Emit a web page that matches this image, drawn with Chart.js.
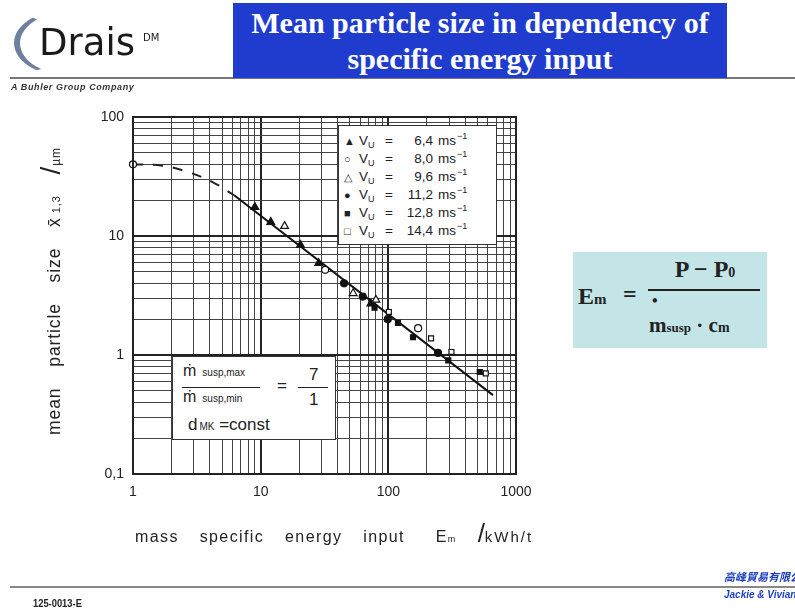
<!DOCTYPE html>
<html>
<head>
<meta charset="utf-8">
<script src="https://cdn.jsdelivr.net/npm/chart.js@4.4.1/dist/chart.umd.min.js"></script>
<style>
  html, body { margin:0; padding:0; background:#fff; }
  body { width:795px; height:614px; position:relative; overflow:hidden; font-family:"Liberation Sans", Arial, sans-serif; }
  #c { position:absolute; left:0; top:0; }
  .abs { position:absolute; }
  #titlebox { left:233px; top:3px; width:494px; height:75px; background:#1f3ccf; color:#fff;
    font-family:"Liberation Serif", "Times New Roman", serif; font-weight:bold; font-size:30px; line-height:36px;
    text-align:center; padding-top:2px; box-sizing:border-box; z-index:2; white-space:nowrap; }
  #hline { left:10px; top:77px; width:785px; height:2px; background:#777; z-index:1; }
  #arc { left:14px; top:8px; width:120px; height:70px; border-radius:50%; border-left:6px solid #6f7f9f; border-top:3px solid transparent; border-bottom:2px solid transparent; border-right:0; box-sizing:border-box; z-index:2; }
  #drais { left:39px; top:21px; font-family:"DejaVu Sans", sans-serif; font-size:37px; color:#1a1a1a; z-index:3; }
  #dm { left:143px; top:32px; font-family:"DejaVu Sans", sans-serif; font-size:10px; color:#1a1a1a; z-index:3; }
  #buhler { left:11px; top:82px; font-size:9px; font-style:italic; font-weight:bold; color:#333; letter-spacing:0.6px; z-index:3; }
  #legend { left:338px; top:125px; width:159px; height:120px; background:#fff; border:1px solid #333; box-sizing:border-box; z-index:3; font-size:13.5px; color:#222; }
  .lrow { position:absolute; left:0; height:18px; width:159px; line-height:18px; }
  .lrow span { position:absolute; top:0; }
  .lrow .mk { left:5px; font-size:11px; }
  .lrow .vu { left:20px; }
  .lrow .vu i { font-style:normal; font-size:9px; position:relative; top:3px; }
  .lrow .eq { left:46px; }
  .lrow .num { left:56px; width:38px; text-align:right; }
  .lrow .unit { left:99px; }
  .lrow .unit i { font-style:normal; font-size:9px; position:relative; top:-6px; margin-left:1px; }
  #annot { left:172px; top:356px; width:164px; height:84px; background:#fff; border:1px solid #333; box-sizing:border-box; z-index:3; color:#222; font-size:14px; }
  #formula { left:573px; top:252px; width:194px; height:96px; background:#c4e5e8; z-index:3; color:#222;
    font-family:"Liberation Serif", "Times New Roman", serif; font-weight:bold; font-size:24px; }
  #ytitle { left:-120px; top:276px; width:340px; height:30px; transform:rotate(-90deg); text-align:center; font-size:17.5px; color:#222; letter-spacing:0.9px; word-spacing:15px; z-index:3; white-space:nowrap; }
  #xtitle { left:135px; top:518px; width:460px; font-size:16px; color:#222; word-spacing:15px; letter-spacing:1.4px; z-index:3; white-space:nowrap; }
  #fline { left:10px; top:586px; width:785px; height:2px; background:#888; }
  #code { left:33px; top:597px; font-size:11px; font-weight:bold; color:#222; transform:scaleX(0.85); transform-origin:left; }
  #cn { left:724px; top:568px; font-family:"Noto Sans CJK TC", sans-serif; font-size:11px; font-weight:bold; font-style:italic; color:#1f3fbf; white-space:nowrap; }
  #jv { left:724px; top:589px; font-size:10px; font-weight:bold; font-style:italic; color:#1f3fbf; white-space:nowrap; }
</style>
</head>
<body>
<canvas id="c" width="795" height="614"></canvas>

<div id="arc" class="abs"></div>
<div id="drais" class="abs">Drais</div>
<div id="dm" class="abs">DM</div>
<div id="hline" class="abs"></div>
<div id="buhler" class="abs">A Buhler Group Company</div>
<div id="titlebox" class="abs">Mean particle size in dependency of<br>specific energy input</div>

<div id="legend" class="abs"></div>

<div id="annot" class="abs">
  <div class="abs" style="left:10px;top:5px;font-size:16px;">m&#775;<span style="font-size:10px;margin-left:6px;">susp,max</span></div>
  <div class="abs" style="left:9px;top:30px;width:78px;height:1px;background:#222;"></div>
  <div class="abs" style="left:10px;top:31px;font-size:16px;">m&#775;<span style="font-size:10px;margin-left:6px;">susp,min</span></div>
  <div class="abs" style="left:104px;top:19px;font-size:17px;">=</div>
  <div class="abs" style="left:125px;top:30px;width:30px;height:1px;background:#222;"></div>
  <div class="abs" style="left:136px;top:8px;font-size:17px;">7</div>
  <div class="abs" style="left:136px;top:33px;font-size:17px;">1</div>
  <div class="abs" style="left:15px;top:58px;font-size:17px;">d<span style="font-size:10px;margin-left:2px;">MK</span> =const</div>
</div>

<div id="formula" class="abs">
  <div class="abs" style="left:5px;top:31px;">E<span style="font-size:15px;">m</span></div>
  <div class="abs" style="left:50px;top:29px;">=</div>
  <div class="abs" style="left:76px;top:4px;width:112px;text-align:center;">P &#8722; P<span style="font-size:14px;">0</span></div>
  <div class="abs" style="left:75px;top:37px;width:112px;height:2px;background:#222;"></div>
  <div class="abs" style="left:79px;top:40px;font-size:16px;">&#8226;</div>
  <div class="abs" style="left:76px;top:61px;font-size:21px;">m<span style="font-size:13px;">susp</span> &#183; c<span style="font-size:14px;">m</span></div>
</div>

<div id="ytitle" class="abs">mean particle size x&#772;<span style="font-size:11px;word-spacing:0;"> 1,3</span> <span style="font-size:28px;word-spacing:0;">/</span><span style="font-size:12px;">µm</span></div>
<div id="xtitle" class="abs">mass specific energy input <span style="margin-left:10px;">E</span><span style="font-size:9px;">m</span> <span style="font-size:26px;word-spacing:0;letter-spacing:0;">/</span><span style="font-size:15px;letter-spacing:2px;">kWh/t</span></div>

<div id="fline" class="abs"></div>
<div id="code" class="abs">125-0013-E</div>
<div id="cn" class="abs">高峰貿易有限公司</div>
<div id="jv" class="abs">Jackie &amp; Vivian Co</div>

<script>
// ---- data ----
const xMajor = [1, 10, 100, 1000];
const xTickLabels = ['1', '10', '100', '1000'];
const yMajor = [0.1, 1, 10, 100];
const yTickLabels = ['0,1', '1', '10', '100'];
const minorSteps = [2, 3, 4, 5, 6, 7, 8, 9];

const legendNames = ['6,4', '8,0', '9,6', '11,2', '12,8', '14,4'];

const v64x = [9, 12, 20.5, 28.5, 73];
const v64y = [17.5, 13.1, 8.4, 5.9, 2.7];
const v80x = [1, 32, 171];
const v80y = [40, 5.2, 1.68];
const v96x = [15.4, 53, 80];
const v96y = [12.1, 3.3, 2.9];
const v112x = [45, 63, 99, 245];
const v112y = [4.0, 3.1, 2.0, 1.04];
const v128x = [78, 119, 156, 295, 520];
const v128y = [2.5, 1.86, 1.41, 0.9, 0.72];
const v144x = [101, 216, 312, 580];
const v144y = [2.3, 1.38, 1.06, 0.7];

const fitDashX = [1, 1.7, 2.8, 4.3, 6.2];
const fitDashY = [40, 39, 34, 28, 22];
const fitLineX = [6.2, 660];
const fitLineY = [22, 0.46];

// ---- build ----
const pts = (xs, ys) => xs.map((x, i) => ({ x: x, y: ys[i] }));
function gridValues(majors) {
  const out = [];
  majors.forEach((m, i) => {
    out.push(m);
    if (i < majors.length - 1) minorSteps.forEach(s => out.push(m * s));
  });
  return out;
}
const xGrid = gridValues(xMajor);
const yGrid = gridValues(yMajor);
const isMajor = (v, majors) => majors.some(m => Math.abs(v - m) / m < 1e-6);

const markerDefs = [
  { style: 'triangle', fill: '#111', sym: '▲' },
  { style: 'circle', fill: '#fff', sym: '○' },
  { style: 'triangle', fill: '#fff', sym: '△' },
  { style: 'circle', fill: '#111', sym: '●' },
  { style: 'rect', fill: '#111', sym: '■' },
  { style: 'rect', fill: '#fff', sym: '□' }
];
const seriesPts = [pts(v64x, v64y), pts(v80x, v80y), pts(v96x, v96y), pts(v112x, v112y), pts(v128x, v128y), pts(v144x, v144y)];

const datasets = [
  { type: 'line', data: pts(fitDashX, fitDashY), borderColor: '#222', borderWidth: 2, borderDash: [10, 10], pointRadius: 0, tension: 0.4, fill: false, order: 10 },
  { type: 'line', data: pts(fitLineX, fitLineY), borderColor: '#111', borderWidth: 2, pointRadius: 0, fill: false, order: 10 }
];
seriesPts.forEach((p, i) => {
  datasets.push({
    type: 'scatter', data: p, label: legendNames[i],
    pointStyle: markerDefs[i].style, pointRadius: markerDefs[i].style === 'triangle' ? 4.5 : 3.5,
    backgroundColor: markerDefs[i].fill, borderColor: '#111', borderWidth: 1.2, clip: false, order: 1
  });
});

// legend (HTML)
const leg = document.getElementById('legend');
legendNames.forEach((n, i) => {
  const r = document.createElement('div');
  r.className = 'lrow';
  r.style.top = (6 + i * 18) + 'px';
  r.innerHTML = '<span class="mk">' + markerDefs[i].sym + '</span><span class="vu">V<i>U</i></span><span class="eq">=</span><span class="num">' + n + '</span><span class="unit">ms<i>&#8722;1</i></span>';
  leg.appendChild(r);
});

new Chart(document.getElementById('c'), {
  data: { datasets: datasets },
  options: {
    responsive: false,
    animation: false,
    layout: { padding: { left: 0, right: 279, top: 117, bottom: 0 } },
    plugins: { legend: { display: false }, tooltip: { enabled: false } },
    scales: {
      x: {
        type: 'logarithmic', min: 1, max: 1000,
        afterBuildTicks: s => { s.ticks = xGrid.map(v => ({ value: v, major: isMajor(v, xMajor) })); },
        afterFit: s => { s.height = 140; },
        ticks: {
          autoSkip: false, maxRotation: 0, padding: 10, color: '#222',
          font: { family: 'Liberation Sans', size: 14 },
          callback: v => { const k = xMajor.findIndex(m => Math.abs(v - m) / m < 1e-6); return k >= 0 ? xTickLabels[k] : ''; }
        },
        grid: {
          drawTicks: false,
          color: c => (c.tick && isMajor(c.tick.value, xMajor)) ? '#222' : '#444',
          lineWidth: c => (c.tick && isMajor(c.tick.value, xMajor)) ? 2 : 1
        },
        border: { display: true, color: '#222', width: 2 }
      },
      y: {
        type: 'logarithmic', min: 0.1, max: 100,
        afterBuildTicks: s => { s.ticks = yGrid.map(v => ({ value: v, major: isMajor(v, yMajor) })); },
        afterFit: s => { s.width = 133; },
        ticks: {
          autoSkip: false, padding: 9, color: '#222',
          font: { family: 'Liberation Sans', size: 14 },
          callback: v => { const k = yMajor.findIndex(m => Math.abs(v - m) / m < 1e-6); return k >= 0 ? yTickLabels[k] : ''; }
        },
        grid: {
          drawTicks: false,
          color: c => (c.tick && isMajor(c.tick.value, yMajor)) ? '#222' : '#444',
          lineWidth: c => (c.tick && isMajor(c.tick.value, yMajor)) ? 2 : 1
        },
        border: { display: true, color: '#222', width: 2 }
      }
    }
  },
  plugins: [{
    id: 'frame',
    afterDraw(chart) {
      const a = chart.chartArea, ctx = chart.ctx;
      ctx.save(); ctx.strokeStyle = '#222'; ctx.lineWidth = 2;
      ctx.strokeRect(a.left, a.top, a.right - a.left, a.bottom - a.top);
      ctx.restore();
    }
  }]
});
</script>
</body>
</html>
